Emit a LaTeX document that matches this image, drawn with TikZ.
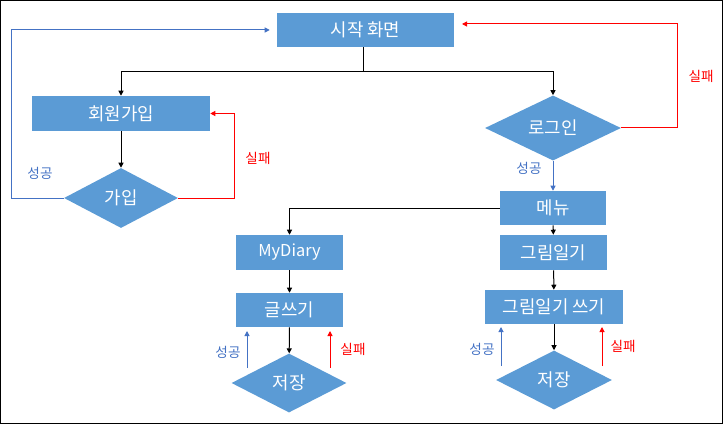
\documentclass[tikz,border=0pt]{standalone}
\usepackage{fontspec}
\setmainfont{Noto Sans CJK KR}
\usetikzlibrary{shapes.geometric,arrows.meta,calc}
\definecolor{boxc}{HTML}{5B9BD5}
\definecolor{bluec}{HTML}{4472C4}
\definecolor{redc}{HTML}{FF0000}
\begin{document}
\begin{tikzpicture}[x=0.75pt,y=-0.75pt,
  box/.style={rectangle, fill=boxc, text=white, inner sep=0pt, font=\fontsize{13.4}{15}\selectfont},
  dia/.style={diamond, fill=boxc, text=white, inner sep=0pt, font=\fontsize{13.4}{15}\selectfont},
  lbl/.style={font=\fontsize{10.2}{12}\selectfont},
  arr/.style={-{Triangle[length=3.75pt,width=3.75pt]}, line width=0.75pt},
  ln/.style={line width=0.75pt}]
\useasboundingbox (0,0) rectangle (723,424);
\draw[line width=0.9pt] (0.75,0.75) rectangle (722.25,423.25);

% nodes
\node[box, minimum width={177*0.75pt}, minimum height={34*0.75pt}] (start) at (365.5,30) {시작 화면};
\node[box, minimum width={178*0.75pt}, minimum height={35*0.75pt}] (signup) at (121,113.5) {회원가입};
\node[dia, minimum width={114*0.75pt}, minimum height={60*0.75pt}] (join) at (121,198) {가입};
\node[dia, minimum width={136*0.75pt}, minimum height={58*0.75pt}] (login) at (553,128) {로그인};
\node[box, minimum width={106*0.75pt}, minimum height={34*0.75pt}] (menu) at (553,208) {메뉴};
\node[box, minimum width={107*0.75pt}, minimum height={35*0.75pt}, font=\fontsize{12.3}{14}\selectfont] (mydiary) at (289.5,252.5) {MyDiary};
\node[box, minimum width={107*0.75pt}, minimum height={34*0.75pt}] (write) at (289.5,310) {글쓰기};
\node[dia, minimum width={115*0.75pt}, minimum height={59*0.75pt}] (save1) at (289,383) {저장};
\node[box, minimum width={107*0.75pt}, minimum height={35*0.75pt}] (pic) at (553.5,252.5) {그림일기};
\node[box, minimum width={138*0.75pt}, minimum height={34*0.75pt}] (picw) at (554,307) {그림일기 쓰기};
\node[dia, minimum width={116*0.75pt}, minimum height={59*0.75pt}] (save2) at (554,380) {저장};

% coordinates
\coordinate (split) at (363,72);
\coordinate (lb) at (11,198);
\coordinate (rj) at (234,198);
\coordinate (rl) at (677,128);
\coordinate (rtop) at (677,24);
\coordinate (stE) at (462,24);
\coordinate (s1ba) at (247,368); \coordinate (s1bb) at (247,331);
\coordinate (s1ra) at (330,368); \coordinate (s1rb) at (330,331);
\coordinate (s2ba) at (501,366); \coordinate (s2bb) at (501,327);
\coordinate (s2ra) at (602,366); \coordinate (s2rb) at (602,327);

% connectors
\draw[ln] (start.south -| split) -- (split);
\draw[arr] (split) -| (signup.north);
\draw[arr] (split) -| (login.north);
\draw[arr] (signup) -- (join);
\draw[arr, bluec] (join.west) -- (lb) |- ([xshift=-5.25pt]start.west);
\draw[arr, redc] (join.east) -- (rj) |- (signup.east);
\draw[arr, redc] (login.east) -- (rl) -- (rtop) -- (stE);
\draw[arr, bluec] (login) -- (menu);
\draw[arr] (menu.west) -| (mydiary.north);
\draw[arr] (menu) -- (pic);
\draw[arr] (pic) -- (picw);
\draw[arr] (picw) -- (save2);
\draw[arr] (mydiary) -- (write);
\draw[arr] (write) -- (save1);
\draw[arr, bluec] (s1ba) -- (s1bb);
\draw[arr, redc] (s1ra) -- (s1rb);
\draw[arr, bluec] (s2ba) -- (s2bb);
\draw[arr, redc] (s2ra) -- (s2rb);

% labels
\node[lbl, text=bluec] (l1) at (40,173) {성공};
\node[lbl, text=redc] (l2) at (258,158) {실패};
\node[lbl, text=redc] (l3) at (701,76) {실패};
\node[lbl, text=bluec] (l4) at (529,168) {성공};
\node[lbl, text=bluec] (l5) at (228,352) {성공};
\node[lbl, text=redc] (l6) at (353,349) {실패};
\node[lbl, text=bluec] (l7) at (482,349) {성공};
\node[lbl, text=redc] (l8) at (623,346) {실패};
\end{tikzpicture}
\end{document}
